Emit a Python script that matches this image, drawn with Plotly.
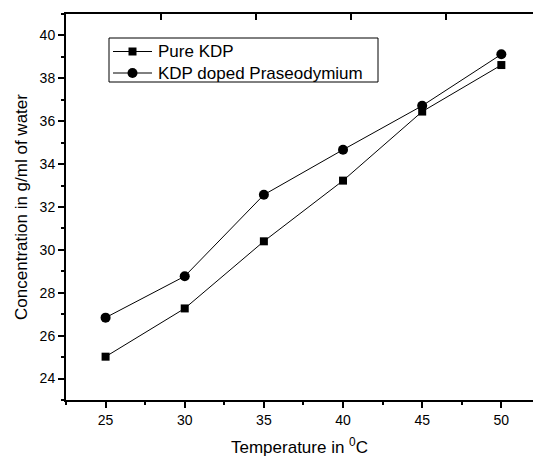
import plotly.graph_objects as go

temps = [25, 30, 35, 40, 45, 50]
pure_kdp = [25.02, 27.27, 30.40, 33.23, 36.45, 38.62]
doped_kdp = [26.84, 28.77, 32.57, 34.67, 36.72, 39.12]
series_names = ["Pure KDP", "KDP doped Praseodymium"]
x_title = "Temperature in <sup>0</sup>C"
y_title = "Concentration in g/ml of water"

FONT = "Liberation Sans, Arial, sans-serif"

# plot area geometry (pixels)
W, H = 533, 458
ML, MR, MT, MB = 66, 0, 14, 58
PW, PH = W - ML - MR, H - MT - MB


def px(xp):
    return (xp - ML) / PW


def py(yp):
    return (H - MB - yp) / PH


fig = go.Figure()
fig.add_trace(go.Scatter(
    x=temps, y=pure_kdp, mode="lines+markers", name=series_names[0],
    line=dict(color="black", width=1),
    marker=dict(symbol="square", size=8, color="black"),
))
fig.add_trace(go.Scatter(
    x=temps, y=doped_kdp, mode="lines+markers", name=series_names[1],
    line=dict(color="black", width=1),
    marker=dict(symbol="circle", size=10, color="black"),
))
# dummy trace for the top frame axis
fig.add_trace(go.Scatter(x=[0], y=[30], xaxis="x2", mode="markers",
                         marker=dict(opacity=0), showlegend=False, hoverinfo="skip"))

# manual legend (box, sample lines, marker samples, labels)
shapes = [dict(type="rect", xref="paper", yref="paper",
               x0=px(109), x1=px(378), y0=py(38), y1=py(82),
               line=dict(color="black", width=1), fillcolor="white", layer="above")]
annotations = []
rows = [51.5, 73]
symbols = ["rect", "circle"]
msize = [8, 10]
for name, ry, sym, ms in zip(series_names, rows, symbols, msize):
    shapes.append(dict(type="line", xref="paper", yref="paper",
                       x0=px(113), x1=px(152), y0=py(ry), y1=py(ry),
                       line=dict(color="black", width=1), layer="above"))
    shapes.append(dict(type=sym, xref="paper", yref="paper",
                       xsizemode="pixel", ysizemode="pixel",
                       xanchor=px(132.5), yanchor=py(ry),
                       x0=-ms / 2, x1=ms / 2, y0=-ms / 2, y1=ms / 2,
                       line=dict(color="black", width=0), fillcolor="black", layer="above"))
    annotations.append(dict(xref="paper", yref="paper", x=px(156), y=py(ry),
                            xanchor="left", yanchor="middle", showarrow=False,
                            text=name, font=dict(size=17, family=FONT, color="black")))

fig.update_layout(
    width=W, height=H,
    margin=dict(l=ML, r=MR, t=MT, b=MB),
    paper_bgcolor="white", plot_bgcolor="white",
    font=dict(family=FONT, color="black", size=14),
    showlegend=False,
    shapes=shapes,
    annotations=annotations,
    xaxis=dict(
        range=[22.5, 52.0], tickvals=temps, showgrid=False, zeroline=False,
        showline=True, linecolor="black", linewidth=2,
        ticks="outside", ticklen=6, tickwidth=1.5, tickcolor="black",
        minor=dict(ticks="outside", ticklen=3, tickwidth=1.5, tickcolor="black",
                   tickvals=[22.5, 27.5, 32.5, 37.5, 42.5, 47.5]),
        tickfont=dict(size=14),
        title=dict(text=x_title, font=dict(size=17), standoff=14),
    ),
    xaxis2=dict(
        overlaying="x", side="top", range=[0, PW / 95], dtick=1, tick0=0,
        showgrid=False, zeroline=False, showticklabels=False,
        showline=True, linecolor="black", linewidth=2,
        ticks="inside", ticklen=6, tickwidth=1.5, tickcolor="black",
    ),
    yaxis=dict(
        range=[23, 41], dtick=2, tick0=24, showgrid=False, zeroline=False,
        showline=True, linecolor="black", linewidth=2,
        ticks="outside", ticklen=6, tickwidth=1.5, tickcolor="black",
        minor=dict(ticks="outside", ticklen=3, tickwidth=1.5, tickcolor="black", dtick=1),
        tickfont=dict(size=14),
        title=dict(text=y_title, font=dict(size=17), standoff=8),
    ),
)

fig.write_html("out.html")
